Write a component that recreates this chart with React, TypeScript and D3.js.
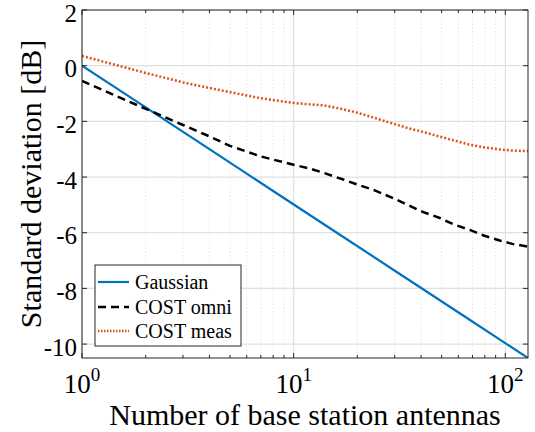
import React from "react";
import * as d3 from "d3";

const gaussN = [1, 2, 4, 8, 16, 32, 64, 128];
const gaussVals = [0, -1.5, -3.0, -4.5, -6.0, -7.5, -9.0, -10.5];

const costN = [1, 2, 3, 4, 5, 7, 10, 12, 14, 17, 20, 24, 30, 35, 41, 49, 57, 68, 79, 94, 108, 128];
const omniVals = [-0.55, -1.55, -2.13, -2.54, -2.88, -3.26, -3.56, -3.7, -3.86, -4.08, -4.27, -4.47, -4.78, -5.02, -5.26, -5.47, -5.7, -5.9, -6.1, -6.28, -6.4, -6.5];
const measVals = [0.35, -0.26, -0.6, -0.8, -0.95, -1.17, -1.34, -1.39, -1.43, -1.56, -1.69, -1.87, -2.1, -2.25, -2.38, -2.55, -2.68, -2.84, -2.93, -3.01, -3.05, -3.07];

const yTicks = [-10, -8, -6, -4, -2, 0, 2];
const xDecades = [1, 10, 100];
const xExponents = ["0", "1", "2"];
const xMinor = [2, 3, 4, 5, 6, 7, 8, 9, 20, 30, 40, 50, 60, 70, 80, 90];

const seriesNames = ["Gaussian", "COST omni", "COST meas"];

export default function App() {
  const W = 535, H = 432;
  const L = 82, R = 528, T = 10, B = 358;
  const x = d3.scaleLog().domain([1, 128]).range([L, R]);
  const y = d3.scaleLinear().domain([-10.5, 2]).range([B, T]);
  const line = d3.line<[number, number]>().x(d => x(d[0])).y(d => y(d[1]));

  const gaussPts = gaussN.map((n, i) => [n, gaussVals[i]] as [number, number]);
  const omniPts = costN.map((n, i) => [n, omniVals[i]] as [number, number]);
  const measPts = costN.map((n, i) => [n, measVals[i]] as [number, number]);

  const axisColor = "#262626";
  const font = "'Liberation Serif', 'Times New Roman', serif";
  const styles = [
    { stroke: "#0072BD", dash: undefined as string | undefined, width: 2.2 },
    { stroke: "#000000", dash: "8,5", width: 2.5 },
    { stroke: "#D95319", dash: "2,2", width: 2.5 },
  ];
  const legX = 95, legY = 265, legW = 146, legH = 81;
  const rowYs = [282, 307, 331];

  return (
    <svg width={W} height={H} style={{ position: "absolute", left: 0, top: 0, background: "#fff" }} fontFamily={font}>
      <defs>
        <clipPath id="plotclip">
          <rect x={L} y={T} width={R - L} height={B - T} />
        </clipPath>
      </defs>
      <rect x={0} y={0} width={W} height={H} fill="#fff" />
      {xMinor.map(v => (
        <line key={"mg" + v} x1={x(v)} x2={x(v)} y1={T} y2={B} stroke="#d4d4d4" strokeWidth={0.8} strokeDasharray="1,2.5" />
      ))}
      {xDecades.map(v => (
        <line key={"xg" + v} x1={x(v)} x2={x(v)} y1={T} y2={B} stroke="#e0e0e0" strokeWidth={1.2} />
      ))}
      {yTicks.map(v => (
        <line key={"yg" + v} x1={L} x2={R} y1={y(v)} y2={y(v)} stroke="#e0e0e0" strokeWidth={1.2} />
      ))}
      <g clipPath="url(#plotclip)" fill="none">
        <path d={line(gaussPts) || ""} stroke={styles[0].stroke} strokeWidth={styles[0].width} />
        <path d={line(omniPts) || ""} stroke={styles[1].stroke} strokeWidth={styles[1].width} strokeDasharray={styles[1].dash} />
        <path d={line(measPts) || ""} stroke={styles[2].stroke} strokeWidth={styles[2].width} strokeDasharray={styles[2].dash} />
      </g>
      <rect x={L} y={T} width={R - L} height={B - T} fill="none" stroke={axisColor} strokeWidth={1} />
      {yTicks.map(v => (
        <g key={"yt" + v}>
          <line x1={L} x2={L + 5} y1={y(v)} y2={y(v)} stroke={axisColor} />
          <line x1={R} x2={R - 5} y1={y(v)} y2={y(v)} stroke={axisColor} />
          <text x={77} y={y(v) + 3} textAnchor="end" dominantBaseline="central" fontSize={25} fill="#000">
            {v < 0 ? "-" + Math.abs(v) : String(v)}
          </text>
        </g>
      ))}
      {xDecades.map((v, i) => (
        <g key={"xt" + v}>
          <line x1={x(v)} x2={x(v)} y1={B} y2={B - 5} stroke={axisColor} />
          <line x1={x(v)} x2={x(v)} y1={T} y2={T + 5} stroke={axisColor} />
          <text x={x(v)} y={393} textAnchor="middle" fontSize={27} fill="#000">
            10<tspan dy={-12} fontSize={19}>{xExponents[i]}</tspan>
          </text>
        </g>
      ))}
      {xMinor.map(v => (
        <g key={"xmt" + v}>
          <line x1={x(v)} x2={x(v)} y1={B} y2={B - 3} stroke={axisColor} />
          <line x1={x(v)} x2={x(v)} y1={T} y2={T + 3} stroke={axisColor} />
        </g>
      ))}
      <text x={305} y={425} textAnchor="middle" fontSize={30} fill="#000">Number of base station antennas</text>
      <text transform={`translate(41,184) rotate(-90)`} textAnchor="middle" fontSize={30} fill="#000">Standard deviation [dB]</text>
      <rect x={legX} y={legY} width={legW} height={legH} fill="#fff" stroke={axisColor} strokeWidth={1} />
      {seriesNames.map((name, i) => (
        <g key={name}>
          <line x1={98} x2={129} y1={rowYs[i]} y2={rowYs[i]} stroke={styles[i].stroke}
            strokeWidth={i === 0 ? 2.2 : 2.5} strokeDasharray={i === 1 ? "8,5" : i === 2 ? "1.5,1.5" : undefined} />
          <text x={135} y={rowYs[i]} dominantBaseline="central" fontSize={20} fill="#000">{name}</text>
        </g>
      ))}
    </svg>
  );
}
